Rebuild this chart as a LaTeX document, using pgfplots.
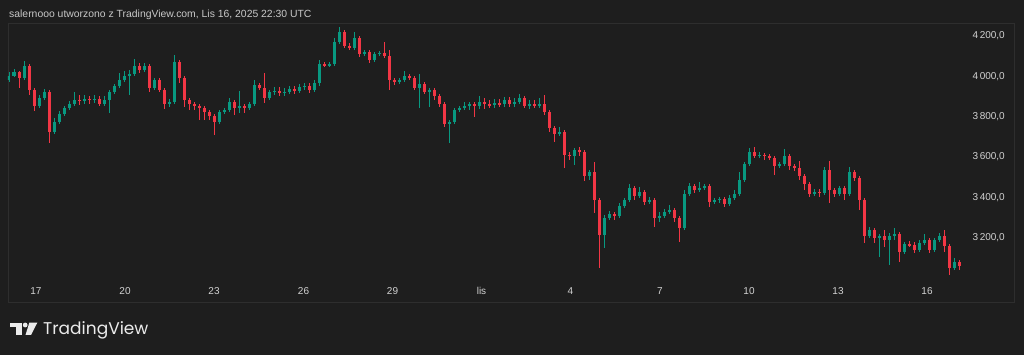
\documentclass[border=0pt]{standalone}
\usepackage{pgfplots}
\usepackage{pgfplotstable}
\pgfplotsset{compat=1.18}
\usepackage{fontspec}
\setmainfont{Liberation Sans}
\newfontfamily\logofont{Poppins}
\definecolor{bg}{RGB}{30,30,30}
\definecolor{framec}{RGB}{46,46,46}
\definecolor{txt}{RGB}{210,210,210}
\definecolor{ttl}{RGB}{200,200,200}
\definecolor{upc}{RGB}{8,153,129}
\definecolor{dnc}{RGB}{242,54,69}
\pgfplotstableread{
i o h l c
0 3982 4022 3972 4002
1 4002 4037 3997 4022
2 4022 4027 3943 3992
3 3992 4076 3982 4052
4 4052 4061 3908 3933
5 3933 3943 3829 3853
6 3853 3908 3844 3893
7 3893 3938 3883 3923
8 3923 3933 3670 3725
9 3725 3794 3715 3774
10 3774 3829 3764 3814
11 3814 3853 3804 3844
12 3844 3878 3834 3863
13 3863 3923 3853 3883
14 3883 3908 3858 3878
15 3878 3908 3863 3888
16 3888 3903 3863 3883
17 3883 3908 3868 3888
18 3888 3903 3853 3863
19 3863 3903 3853 3883
20 3883 3933 3819 3923
21 3923 3962 3913 3952
22 3952 4017 3943 3982
23 3982 4027 3972 4002
24 4002 4032 3908 4012
25 4012 4086 4002 4052
26 4052 4066 4017 4032
27 4032 4066 4022 4052
28 4052 4061 3923 3943
29 3943 3992 3933 3982
30 3982 3992 3923 3933
31 3933 3943 3839 3863
32 3863 3888 3849 3873
33 3873 4106 3863 4071
34 4071 4081 3967 3992
35 3992 4002 3849 3883
36 3883 3893 3834 3863
37 3863 3873 3834 3853
38 3853 3863 3784 3844
39 3844 3853 3784 3824
40 3824 3834 3784 3804
41 3804 3814 3710 3774
42 3774 3834 3764 3824
43 3824 3844 3814 3834
44 3834 3893 3824 3873
45 3873 3883 3809 3844
46 3844 3928 3819 3853
47 3853 3863 3819 3844
48 3844 3873 3834 3863
49 3863 3982 3853 3957
50 3957 3967 3933 3943
51 3943 4017 3868 3893
52 3893 3933 3883 3923
53 3923 3948 3908 3928
54 3928 3948 3903 3918
55 3918 3943 3903 3923
56 3923 3953 3913 3938
57 3938 3953 3913 3928
58 3928 3962 3918 3948
59 3948 3967 3933 3952
60 3952 3967 3918 3933
61 3933 3982 3923 3967
62 3967 4081 3952 4061
63 4061 4071 4047 4056
64 4056 4071 4047 4061
65 4061 4190 4052 4170
66 4170 4245 4160 4220
67 4220 4230 4141 4151
68 4151 4165 4131 4141
69 4141 4220 4131 4190
70 4190 4200 4096 4111
71 4111 4131 4101 4121
72 4121 4131 4066 4081
73 4081 4121 4071 4111
74 4111 4126 4101 4116
75 4116 4170 4091 4101
76 4101 4131 3933 3982
77 3982 3992 3957 3972
78 3972 3992 3962 3982
79 3982 4027 3972 4002
80 4002 4012 3982 3992
81 3992 4002 3933 3943
82 3943 4012 3844 3962
83 3962 3972 3913 3923
84 3923 3943 3849 3933
85 3933 3943 3883 3903
86 3903 3913 3849 3863
87 3863 3873 3750 3764
88 3764 3784 3670 3774
89 3774 3844 3764 3834
90 3834 3853 3824 3844
91 3844 3873 3834 3853
92 3853 3873 3834 3863
93 3863 3873 3799 3853
94 3853 3903 3839 3873
95 3873 3893 3839 3863
96 3863 3883 3844 3858
97 3858 3888 3844 3868
98 3868 3888 3848 3863
99 3863 3898 3848 3883
100 3883 3898 3848 3863
101 3863 3893 3848 3873
102 3873 3913 3863 3893
103 3893 3903 3844 3853
104 3853 3883 3839 3863
105 3863 3883 3844 3858
106 3858 3893 3844 3863
107 3863 3908 3809 3824
108 3824 3834 3725 3745
109 3745 3754 3675 3715
110 3715 3750 3705 3725
111 3725 3735 3547 3611
112 3611 3626 3586 3606
113 3606 3646 3561 3636
114 3636 3651 3606 3626
115 3626 3636 3482 3507
116 3507 3537 3487 3527
117 3527 3576 3324 3388
118 3388 3398 3052 3215
119 3215 3314 3151 3299
120 3299 3334 3289 3319
121 3319 3329 3289 3309
122 3309 3373 3299 3358
123 3358 3398 3349 3388
124 3388 3467 3378 3448
125 3448 3457 3388 3408
126 3408 3453 3398 3428
127 3428 3438 3363 3378
128 3378 3403 3368 3388
129 3388 3398 3255 3299
130 3299 3329 3279 3309
131 3309 3344 3299 3329
132 3329 3363 3319 3339
133 3339 3349 3279 3299
134 3299 3309 3180 3250
135 3250 3438 3240 3418
136 3418 3472 3408 3457
137 3457 3467 3423 3438
138 3438 3477 3428 3448
139 3448 3467 3438 3457
140 3457 3467 3354 3378
141 3378 3398 3368 3388
142 3388 3403 3373 3393
143 3393 3403 3354 3368
144 3368 3413 3358 3398
145 3398 3438 3388 3418
146 3418 3527 3408 3487
147 3487 3576 3477 3566
148 3566 3646 3557 3626
149 3626 3651 3596 3606
150 3606 3626 3596 3611
151 3611 3621 3586 3606
152 3606 3616 3586 3596
153 3596 3606 3512 3557
154 3557 3576 3547 3566
155 3566 3641 3557 3606
156 3606 3616 3537 3557
157 3557 3566 3532 3547
158 3547 3581 3487 3507
159 3507 3517 3438 3467
160 3467 3477 3403 3418
161 3418 3443 3408 3428
162 3428 3443 3403 3423
163 3423 3552 3413 3537
164 3537 3581 3373 3438
165 3438 3448 3403 3418
166 3418 3457 3408 3448
167 3448 3457 3388 3418
168 3418 3552 3408 3527
169 3527 3537 3482 3497
170 3497 3507 3339 3388
171 3388 3398 3175 3210
172 3210 3255 3200 3240
173 3240 3250 3175 3200
174 3200 3220 3106 3210
175 3210 3240 3156 3190
176 3190 3225 3066 3210
177 3210 3250 3190 3220
178 3220 3230 3081 3131
179 3131 3180 3121 3170
180 3170 3185 3156 3165
181 3165 3180 3126 3141
182 3141 3190 3131 3175
183 3175 3220 3165 3190
184 3190 3200 3126 3141
185 3141 3200 3131 3190
186 3190 3225 3180 3210
187 3210 3240 3131 3160
188 3160 3170 3017 3052
189 3052 3101 3042 3081
190 3081 3091 3042 3061
}\candles
\begin{document}
\begin{tikzpicture}
\fill[bg] (0pt,0pt) rectangle (1024pt,355pt);
\begin{axis}[
  at={(8pt,53pt)}, anchor=south west,
  width=1006pt, height=279pt, scale only axis,
  xmin=-0.2, xmax=201, ymin=2883, ymax=4264,
  axis line style={draw=framec, line width=0.8pt},
  major tick length=0pt, tick style={draw=none},
  xtick={5.4,23.2,41.0,58.9,76.7,94.5,112.3,130.2,148.0,165.8,183.6},
  xticklabels={17,20,23,26,29,lis,4,7,10,13,16},
  xticklabel style={anchor=center, yshift=11pt, inner sep=0pt, text=txt, font=\fontsize{10}{12}\selectfont},
  ytick={3200,3400,3600,3800,4000,4200},
  yticklabels={{3\,200,0},{3\,400,0},{3\,600,0},{3\,800,0},{4\,000,0},{4\,200,0}},
  yticklabel pos=right,
  yticklabel style={anchor=east, xshift=-9pt, inner sep=0pt, text=txt, font=\fontsize{10}{12}\selectfont},
  clip=true,
]
% wicks
\addplot[draw=none, mark=none, forget plot,
  error bars/.cd, y dir=both, y explicit, error mark=none,
  error bar style={draw=upc, line width=0.8pt, solid}]
  table[x=i, y expr={\thisrow{c}>=\thisrow{o} ? (\thisrow{h}+\thisrow{l})/2 : nan},
        y error expr={(\thisrow{h}-\thisrow{l})/2}] {\candles};
\addplot[draw=none, mark=none, forget plot,
  error bars/.cd, y dir=both, y explicit, error mark=none,
  error bar style={draw=dnc, line width=0.8pt, solid}]
  table[x=i, y expr={\thisrow{c}<\thisrow{o} ? (\thisrow{h}+\thisrow{l})/2 : nan},
        y error expr={(\thisrow{h}-\thisrow{l})/2}] {\candles};
% bodies
\addplot[draw=none, mark=none, forget plot,
  error bars/.cd, y dir=both, y explicit, error mark=none,
  error bar style={draw=upc, line width=3.0pt, solid}]
  table[x=i, y expr={\thisrow{c}>=\thisrow{o} ? (\thisrow{o}+\thisrow{c})/2 : nan},
        y error expr={max(abs(\thisrow{c}-\thisrow{o})/2,3)}] {\candles};
\addplot[draw=none, mark=none, forget plot,
  error bars/.cd, y dir=both, y explicit, error mark=none,
  error bar style={draw=dnc, line width=3.0pt, solid}]
  table[x=i, y expr={\thisrow{c}<\thisrow{o} ? (\thisrow{o}+\thisrow{c})/2 : nan},
        y error expr={max(abs(\thisrow{c}-\thisrow{o})/2,3)}] {\candles};
\end{axis}
% title
\node[anchor=base west, inner sep=0pt, text=ttl, font=\fontsize{10.4}{12}\selectfont] at (9pt,337.5pt)
  {salernooo utworzono z TradingView.com, Lis 16, 2025 22:30 UTC};
% TradingView logo
\fill[white!92!black] (10pt,32.3pt) rectangle (21.7pt,27.7pt);
\fill[white!92!black] (16pt,32.3pt) rectangle (21.7pt,20pt);
\fill[white!92!black] (25.2pt,30pt) circle (2.4pt);
\fill[white!92!black] (29.3pt,32.3pt) -- (37.3pt,32.3pt) -- (31pt,20pt) -- (25.5pt,20pt) -- cycle;
\node[anchor=base west, inner sep=0pt, text=white!92!black, font=\logofont\fontsize{17}{20}\selectfont] at (43pt,20pt) {TradingView};
\end{tikzpicture}
\end{document}
